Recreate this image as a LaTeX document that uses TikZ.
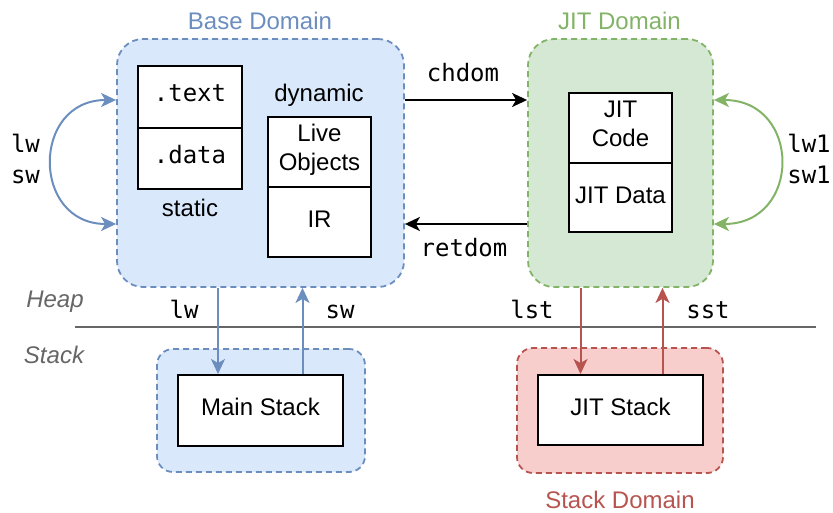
\documentclass[tikz,border=0pt]{standalone}
\usepackage{fontspec}
\setmainfont{Liberation Sans}
\setmonofont{DejaVu Sans Mono}
\usetikzlibrary{arrows.meta}
\definecolor{bstroke}{HTML}{6C8EBF}
\definecolor{bfill}{HTML}{DAE8FC}
\definecolor{gstroke}{HTML}{82B366}
\definecolor{gfill}{HTML}{D5E8D4}
\definecolor{rstroke}{HTML}{B85450}
\definecolor{rfill}{HTML}{F8CECC}
\definecolor{graytxt}{HTML}{666666}
\begin{document}
\begin{tikzpicture}[x=1pt,y=-1pt,
  dombox/.style={draw, dash pattern=on 6pt off 4pt, line width=1.8pt, rounded corners=#1, inner sep=0pt},
  cell/.style={draw=black, line width=2pt, fill=white, inner sep=0pt},
  sans/.style={font=\fontsize{24}{29}\selectfont, inner sep=0pt, anchor=base},
  mono/.style={font=\ttfamily\fontsize{24}{29}\selectfont, inner sep=0pt, anchor=base},
  tipend/.style={-{Stealth[length=15pt,width=14pt,inset=4pt]}},
  tipboth/.style={{Stealth[length=15pt,width=14pt,inset=4pt]}-{Stealth[length=15pt,width=14pt,inset=4pt]}},
  arr/.style={line width=2pt},
]
\useasboundingbox (0,0) rectangle (833,513);

% domains
\node[dombox=26pt, draw=bstroke, fill=bfill, minimum width=287pt, minimum height=248pt] (base) at (260.5,163) {};
\node[dombox=26pt, draw=gstroke, fill=gfill, minimum width=185pt, minimum height=248pt] (jit) at (620.5,163) {};
\node[dombox=16pt, draw=bstroke, fill=bfill, minimum width=208pt, minimum height=123pt] (mdom) at (261,410.5) {};
\node[dombox=16pt, draw=rstroke, fill=rfill, minimum width=206pt, minimum height=125pt] (sdom) at (620,410.5) {};

% domain titles
\node[sans, text=bstroke] (tbase) at (260,29.5) {Base Domain};
\node[sans, text=gstroke] (tjit) at (619.5,29.5) {JIT Domain};
\node[sans, text=rstroke] (tstack) at (620,508) {Stack Domain};

% cells
\node[cell, minimum width=104pt, minimum height=62pt] (ctext) at (190,97) {};
\node[cell, minimum width=104pt, minimum height=61pt] (cdata) at (190,158.5) {};
\node[cell, minimum width=103pt, minimum height=70pt] (clive) at (319.5,152) {};
\node[cell, minimum width=103pt, minimum height=70pt] (cir) at (319.5,222) {};
\node[cell, minimum width=103pt, minimum height=70pt] (cjc) at (620.5,128) {};
\node[cell, minimum width=103pt, minimum height=69pt] (cjd) at (620.5,197.5) {};
\node[cell, minimum width=165pt, minimum height=71pt] (mainst) at (260.5,410.5) {};
\node[cell, minimum width=165pt, minimum height=70pt] (jitst) at (620.5,410) {};

% cell texts
\node[mono] (ltext) at (190,102) {.text};
\node[mono] (ldata) at (190,164) {.data};
\node[sans] (lstatic) at (190,217) {static};
\node[sans] (ldyn) at (319,102) {dynamic};
\node[sans] (llive) at (319.5,142) {Live};
\node[sans] (lobj) at (319.5,171) {Objects};
\node[sans] (lir) at (319.5,228) {IR};
\node[sans] (ljit) at (620.5,118) {JIT};
\node[sans] (lcode) at (620.5,147) {Code};
\node[sans] (ljd) at (620.5,204) {JIT Data};
\node[sans] (lms) at (260.5,415) {Main Stack};
\node[sans] (ljs) at (620.5,415) {JIT Stack};

% heap / stack separator
\coordinate (hl) at (75,327);
\coordinate (hr) at (816,327);
\draw[line width=2.5pt, graytxt] (hl) -- (hr);
\node[sans, text=graytxt, font=\itshape\fontsize{24}{29}\selectfont] (lheap) at (55,308) {Heap};
\node[sans, text=graytxt, font=\itshape\fontsize{24}{29}\selectfont] (lstk) at (54,363) {Stack};

% horizontal arrows
\draw[arr, tipend] ([yshift=63pt]base.east) -- ([yshift=63pt]jit.west);
\draw[arr, tipend] ([yshift=-61pt]jit.west) -- ([yshift=-61pt]base.east);
\node[mono] (lch) at (463,82) {chdom};
\node[mono] (lret) at (464,257) {retdom};

% loops
\draw[arr, tipboth, bstroke] ([yshift=63pt]base.west) .. controls +(-85,0) and +(-85,0) .. ([yshift=-61pt]base.west);
\draw[arr, tipboth, gstroke] ([yshift=63pt]jit.east) .. controls +(88,0) and +(88,0) .. ([yshift=-61pt]jit.east);
\node[mono] (llw) at (25.5,153) {lw};
\node[mono] (lsw) at (25.5,184) {sw};
\node[mono] (llw1) at (809,153) {lw1};
\node[mono] (lsw1) at (809,184) {sw1};

% vertical arrows
\draw[arr, tipend, bstroke] ([xshift=-42.5pt]base.south) -- ([xshift=-42.5pt]mainst.north);
\draw[arr, tipend, bstroke] ([xshift=42pt]mainst.north) -- ([xshift=42pt]base.south);
\draw[arr, tipend, rstroke] ([xshift=-40pt]jit.south) -- ([xshift=-40pt]jitst.north);
\draw[arr, tipend, rstroke] ([xshift=42pt]jitst.north) -- ([xshift=42pt]jit.south);
\node[mono] (blw) at (184,319) {lw};
\node[mono] (bsw) at (340,319) {sw};
\node[mono] (blst) at (532,319) {lst};
\node[mono] (bsst) at (708,319) {sst};
\end{tikzpicture}
\end{document}
